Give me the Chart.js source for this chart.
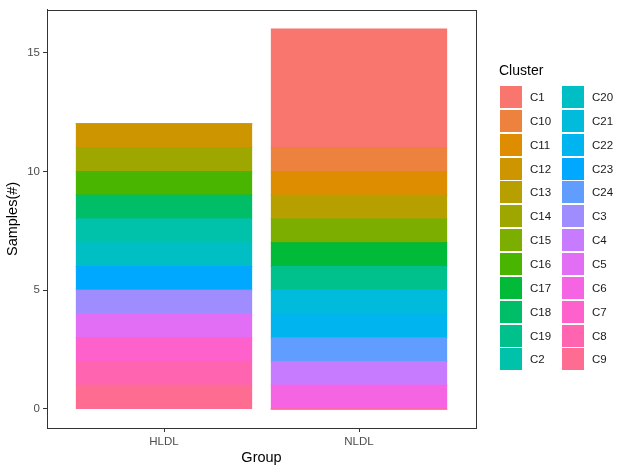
<!DOCTYPE html>
<html>
<head>
<meta charset="utf-8">
<script src="https://cdn.jsdelivr.net/npm/chart.js@4/dist/chart.umd.min.js"></script>
<style>
  html, body { margin: 0; padding: 0; background: #fff; }
  #wrap { position: relative; width: 630px; height: 473px; font-family: "Liberation Sans", Arial, sans-serif; }
  #c { position: absolute; left: 0; top: 0; }
  #legend { position: absolute; left: 0; top: 0; width: 630px; height: 473px; pointer-events: none; }
  .lt { position: absolute; font-size: 14px; color: #000; line-height: 16px; }
  .key { position: absolute; width: 22px; height: 22px; }
  .lab { position: absolute; font-size: 11.5px; color: #1a1a1a; line-height: 22px; height: 22px; }
</style>
</head>
<body>
<div id="wrap">
  <canvas id="c" width="630" height="473"></canvas>
  <div id="legend"></div>
</div>
<script>
// ---- data ----
const groups = ['HLDL', 'NLDL'];
const clusters = ['C1','C10','C11','C12','C13','C14','C15','C16','C17','C18','C19','C2',
                  'C20','C21','C22','C23','C24','C3','C4','C5','C6','C7','C8','C9'];
const hldlCounts = [0,0,0,1,0,1,0,1,0,1,0,1, 1,0,0,1,0,1,0,1,0,1,1,1];
const nldlCounts = [5,1,1,0,1,0,1,0,1,0,1,0, 0,1,1,0,1,0,1,0,1,0,0,0];
const yTicks = [0, 5, 10, 15];

// ---- ggplot-like hue palette (HCL, l=65, c=100) ----
function hcl2hex(h, c, l) {
  const hr = h * Math.PI / 180;
  const u = c * Math.cos(hr), v = c * Math.sin(hr);
  const Xn = 95.047, Yn = 100, Zn = 108.883;
  const Y = l > 8 ? Yn * Math.pow((l + 16) / 116, 3) : Yn * l / 903.3;
  const den = Xn + 15 * Yn + 3 * Zn;
  const un = 4 * Xn / den, vn = 9 * Yn / den;
  const up = u / (13 * l) + un, vp = v / (13 * l) + vn;
  const X = Y * 9 * up / (4 * vp);
  const Z = Y * (12 - 3 * up - 20 * vp) / (4 * vp);
  const x = X / 100, y = Y / 100, z = Z / 100;
  let r = 3.240479 * x - 1.537150 * y - 0.498535 * z;
  let g = -0.969256 * x + 1.875992 * y + 0.041556 * z;
  let b = 0.055648 * x - 0.204043 * y + 1.057311 * z;
  const gam = t => { t = t <= 0.0031308 ? 12.92 * t : 1.055 * Math.pow(t, 1 / 2.4) - 0.055; return Math.max(0, Math.min(1, t)); };
  const hx = t => Math.round(gam(t) * 255).toString(16).padStart(2, '0');
  return '#' + hx(r) + hx(g) + hx(b);
}
const n = clusters.length;
const colors = clusters.map((_, i) => hcl2hex(15 + i * (345 / (n - 1)), 100, 65));

// datasets: first dataset is drawn at the bottom, so reverse (C1 ends on top)
const datasets = [];
for (let i = n - 1; i >= 0; i--) {
  datasets.push({
    label: clusters[i],
    data: [{ x: 1, y: hldlCounts[i] }, { x: 2, y: nldlCounts[i] }],
    backgroundColor: colors[i],
    borderWidth: 0,
    inflateAmount: 0.4,
    categoryPercentage: 0.9,
    barPercentage: 1.0
  });
}

const FONT = '"Liberation Sans", Arial, sans-serif';

const panelBorder = {
  id: 'panelBorder',
  afterDraw(chart) {
    const { ctx, chartArea: a } = chart;
    ctx.save();
    ctx.strokeStyle = '#333333';
    ctx.lineWidth = 1;
    ctx.strokeRect(Math.round(a.left) + 0.5, Math.round(a.top) + 0.5, Math.round(a.right - a.left), Math.round(a.bottom - a.top));
    ctx.restore();
  }
};

new Chart(document.getElementById('c'), {
  type: 'bar',
  data: { datasets },
  options: {
    responsive: false,
    animation: false,
    events: [],
    layout: { padding: { top: 8, right: 154, left: 0, bottom: 0 } },
    plugins: { legend: { display: false }, tooltip: { enabled: false } },
    scales: {
      x: {
        type: 'linear',
        stacked: true,
        offset: false,
        min: 0.4, max: 2.6,
        afterBuildTicks: s => { s.ticks = groups.map((_, i) => ({ value: i + 1 })); },
        afterFit: s => { s.height = 45; },
        ticks: {
          callback: v => groups[Math.round(v) - 1] || '',
          color: '#4D4D4D', font: { family: FONT, size: 11.5 }, padding: 3,
          autoSkip: false, maxRotation: 0
        },
        grid: { offset: false, drawOnChartArea: false, drawTicks: true, tickLength: 4, color: '#333333' },
        border: { display: true, color: '#333333' },
        title: { display: true, text: 'Group', color: '#000', font: { family: FONT, size: 14.5 }, padding: { top: 2, bottom: 6 } }
      },
      y: {
        type: 'linear',
        stacked: true,
        min: -0.8, max: 16.8,
        afterBuildTicks: s => { s.ticks = yTicks.map(v => ({ value: v })); },
        afterFit: s => { s.width = 47; },
        ticks: { color: '#4D4D4D', font: { family: FONT, size: 11.5 }, padding: 3 },
        grid: { drawOnChartArea: false, drawTicks: true, tickLength: 4, color: '#333333' },
        border: { display: true, color: '#333333' },
        title: { display: true, text: 'Samples(#)', color: '#000', font: { family: FONT, size: 14.5 }, padding: { top: 4, bottom: 4 } }
      }
    }
  },
  plugins: [panelBorder]
});

// ---- legend (two columns, 12 rows) ----
const leg = document.getElementById('legend');
const title = document.createElement('div');
title.className = 'lt';
title.style.left = '499px';
title.style.top = '62px';
title.textContent = 'Cluster';
leg.appendChild(title);
const rows = 12;
clusters.forEach((name, i) => {
  const col = Math.floor(i / rows), row = i % rows;
  const kx = 500 + col * 62, ky = 86 + row * 23.85;
  const k = document.createElement('div');
  k.className = 'key';
  k.style.left = kx + 'px';
  k.style.top = ky + 'px';
  k.style.background = colors[i];
  leg.appendChild(k);
  const l = document.createElement('div');
  l.className = 'lab';
  l.style.left = (kx + 30) + 'px';
  l.style.top = ky + 'px';
  l.textContent = name;
  leg.appendChild(l);
});
</script>
</body>
</html>
